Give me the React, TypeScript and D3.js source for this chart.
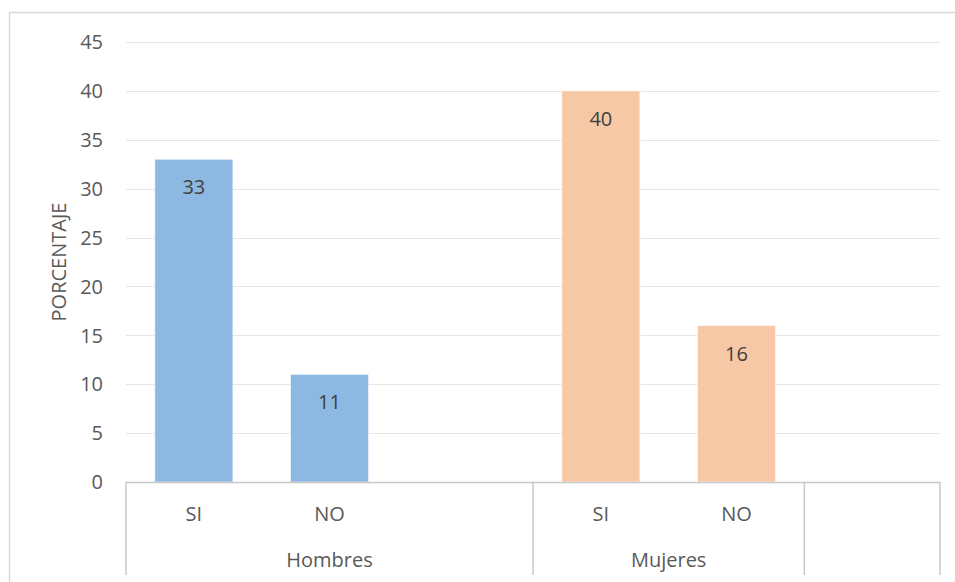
import React from "react";
import * as d3 from "d3";

// Survey answers by sex (percent)
const slotIds = ["h-si", "h-no", "h-gap", "m-si", "m-no", "x-gap"];
const slotLabels = ["SI", "NO", "", "SI", "NO", ""];
const slotGroups = ["Hombres", "Hombres", "Hombres", "Mujeres", "Mujeres", ""];
const slotValues: (number | null)[] = [33, 11, null, 40, 16, null];
const groupNames = ["Hombres", "Mujeres", ""];
const groupColors: Record<string, string> = { Hombres: "#8DB8E2", Mujeres: "#F7C8A6" };
const yTicks = [0, 5, 10, 15, 20, 25, 30, 35, 40, 45];
const yTitle = "PORCENTAJE";

const W = 955;
const H = 582;
const plot = { left: 126, right: 940, top: 42, bottom: 482 };
const FONT = "'Open Sans', 'Liberation Sans', sans-serif";

export default function App() {
  const x = d3
    .scaleBand<string>()
    .domain(slotIds)
    .range([plot.left, plot.right])
    .paddingInner(0.425)
    .paddingOuter(0.2125);
  const y = d3.scaleLinear().domain([0, 45]).range([plot.bottom, plot.top]);
  const step = x.step();
  const slotStart = (i: number) => plot.left + i * step;

  // group spans on the category axis
  const spans = groupNames.map((g) => {
    const idx = slotGroups.map((s, i) => (s === g ? i : -1)).filter((i) => i >= 0);
    return { name: g, x0: slotStart(idx[0]), x1: slotStart(idx[idx.length - 1] + 1) };
  });
  const dividers = [...spans.map((s) => s.x0), plot.right];

  return (
    <svg
      width={W}
      height={H}
      style={{ position: "absolute", left: 0, top: 0, background: "#fff" }}
      fontFamily={FONT}
    >
      <rect x={9.5} y={12.5} width={W + 20} height={H + 20} fill="#fff" stroke="#d9d9d9" strokeWidth={1.5} />

      {yTicks.map((t) => (
        <g key={t}>
          {t > 0 && (
            <line x1={plot.left} x2={plot.right} y1={Math.round(y(t)) + 0.5} y2={Math.round(y(t)) + 0.5} stroke="#e6e6e6" strokeWidth={1} />
          )}
          <text x={103} y={y(t)} dy="0.36em" textAnchor="end" fontSize={20} fill="#595959">
            {t}
          </text>
        </g>
      ))}

      <text
        transform={`translate(${66}, ${(plot.top + plot.bottom) / 2}) rotate(-90)`}
        textAnchor="middle"
        fontSize={20}
        fill="#595959"
      >
        {yTitle}
      </text>

      {slotIds.map((id, i) => {
        const v = slotValues[i];
        if (v == null) return null;
        const bx = x(id)!;
        return (
          <g key={id}>
            <rect
              x={bx}
              y={y(v)}
              width={x.bandwidth()}
              height={y(0) - y(v)}
              fill={groupColors[slotGroups[i]]}
              stroke="#ffffff"
              strokeOpacity={0.5}
              strokeWidth={1}
            />
            <text x={bx + x.bandwidth() / 2} y={y(v) + 35} textAnchor="middle" fontSize={20} fill="#404040">
              {v}
            </text>
          </g>
        );
      })}

      <line x1={plot.left} x2={plot.right} y1={plot.bottom + 0.5} y2={plot.bottom + 0.5} stroke="#c8c8c8" strokeWidth={1.5} />
      {dividers.map((dx, i) => (
        <line key={i} x1={dx} x2={dx} y1={plot.bottom} y2={575} stroke="#c8c8c8" strokeWidth={1.5} />
      ))}

      {slotIds.map((id, i) => (
        <text key={id} x={x(id)! + x.bandwidth() / 2} y={521} textAnchor="middle" fontSize={20} fill="#595959">
          {slotLabels[i]}
        </text>
      ))}
      {spans.map((s) => (
        <text key={s.name} x={(s.x0 + s.x1) / 2} y={567} textAnchor="middle" fontSize={20} fill="#595959">
          {s.name}
        </text>
      ))}
    </svg>
  );
}
